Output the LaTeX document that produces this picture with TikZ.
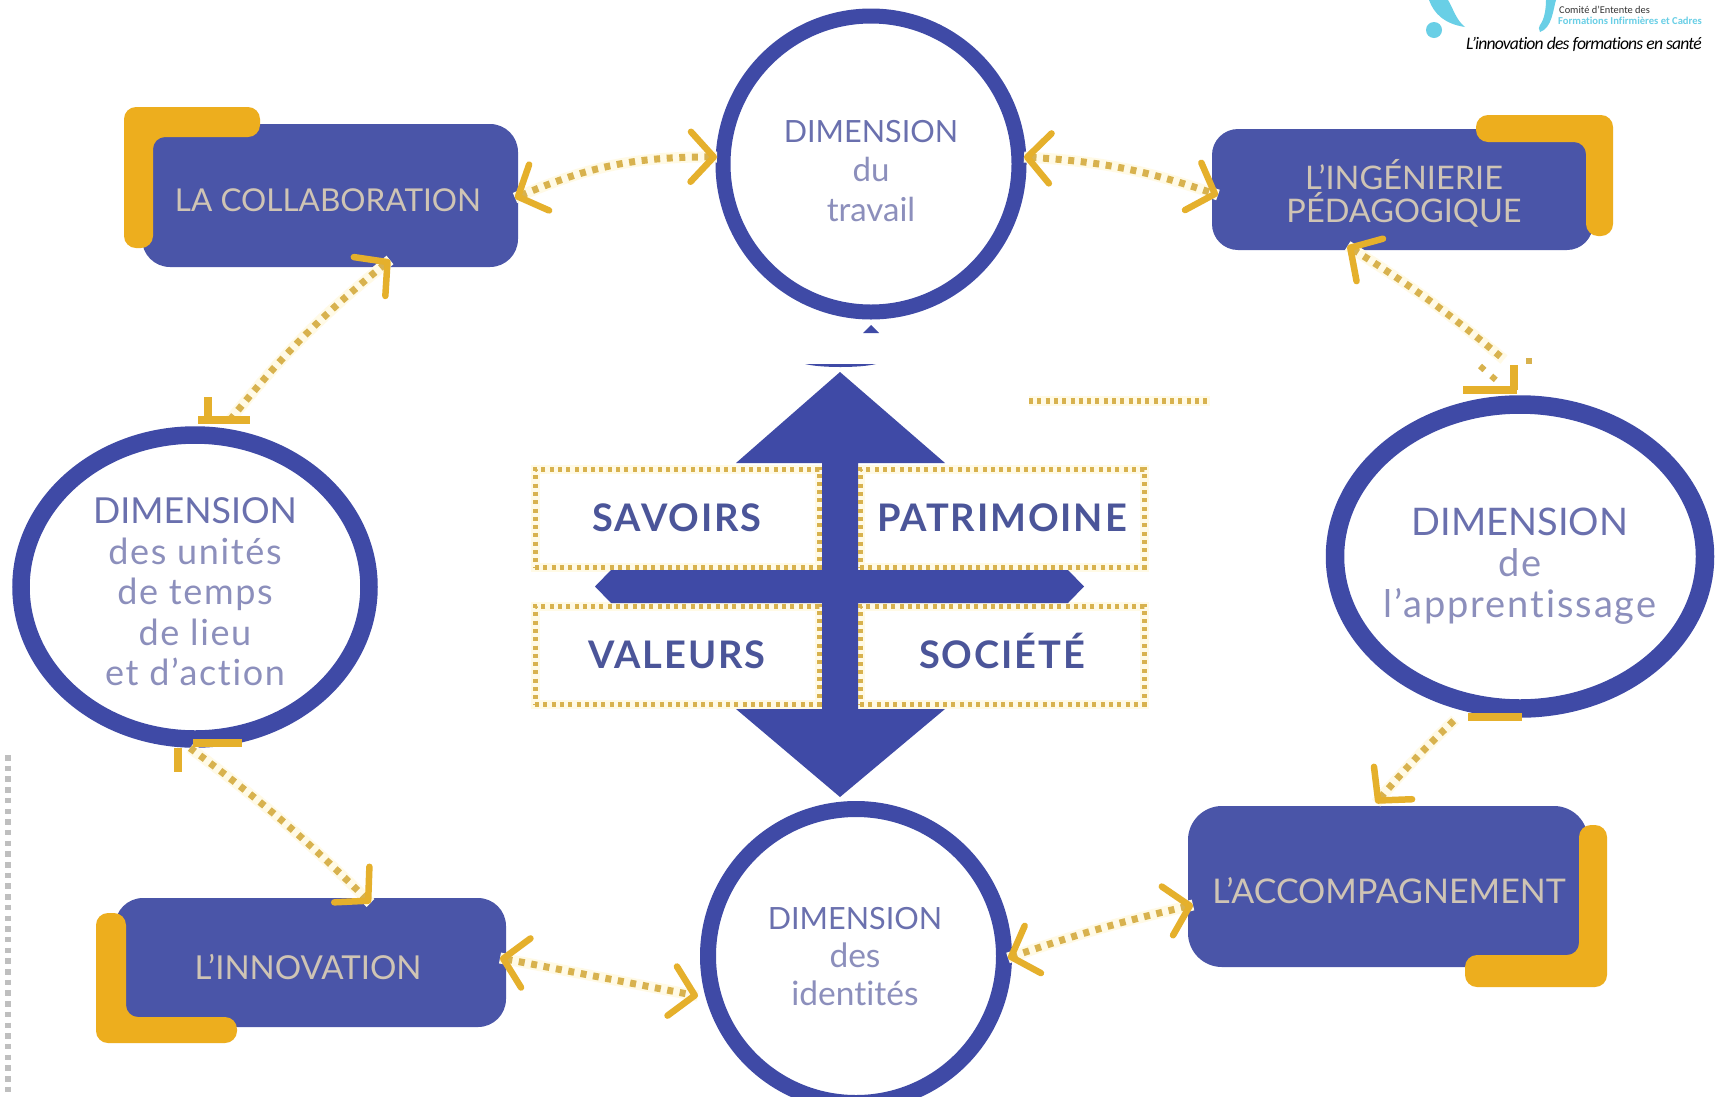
\documentclass[tikz,border=0pt]{standalone}
\usepackage{fontspec}
\setmainfont{Lato}[Ligatures={TeX,NoCommon}]
\newfontfamily\logofont{Carlito}[Ligatures={TeX,NoCommon}]
\usetikzlibrary{shapes.geometric,arrows.meta,bending}
\definecolor{ringblue}{HTML}{3F4AA6}
\definecolor{boxblue}{HTML}{4A55A8}
\definecolor{goldL}{HTML}{EDAE1E}
\definecolor{goldtip}{HTML}{E5B02C}
\definecolor{golddot}{HTML}{D8B24E}
\definecolor{halo}{HTML}{FFFAE6}
\definecolor{labelbeige}{HTML}{CFC4B4}
\definecolor{dimtop}{HTML}{6A70AE}
\definecolor{dimlow}{HTML}{8C8FBC}
\definecolor{coretext}{HTML}{4B5599}
\definecolor{teal}{HTML}{69CFE6}
\newcommand\fpx[2]{\fontsize{#1pt}{#2pt}\selectfont}
\newcommand\wide[1]{\addfontfeature{LetterSpace=#1}}
\tikzset{
  x=1pt,y=-1pt,
  ring/.style={draw=ringblue,line width=15pt,ellipse,fill=white,inner sep=0pt,outer sep=0pt},
  bluebox/.style={fill=boxblue,rectangle,inner sep=0pt,outer sep=0pt},
  boxlabel/.style={text=labelbeige,align=center,inner sep=0pt},
  dimlabel/.style={text=dimlow,align=center,inner sep=0pt},
  corebox/.style={rectangle,draw=golddot,line width=5pt,dash pattern=on 4pt off 4.3pt,
     minimum width=284pt,minimum height=98pt,inner sep=0pt,text=coretext,
     text height=27.4pt,text depth=0pt,font=\bfseries\fpx{38}{38}\wide{5}},
  halobox/.style={draw=halo,line width=9pt},
  link/.style={draw=golddot,line width=7pt,dash pattern=on 6pt off 6.6pt,
     preaction={draw=halo,line width=11pt,solid,arrows=-}},
  chev/.tip={Straight Barb[length=23pt,width=50pt,line width=6.5pt,color=goldtip,round]},
  bar/.style={draw=goldtip,line width=7.5pt},
}
\begin{document}
\begin{tikzpicture}
\fill[white] (0,0) rectangle (1717,1096);
\clip (0,0) rectangle (1717,1096);

% boxes
\node[bluebox,rounded corners=28pt,minimum width=376pt,minimum height=143pt] (coll) at (330,195.5) {};
\node[bluebox,rounded corners=26pt,minimum width=381pt,minimum height=121pt] (inge) at (1402.5,189.5) {};
\node[bluebox,rounded corners=34pt,minimum width=400pt,minimum height=161pt] (acco) at (1388,886.5) {};
\node[bluebox,rounded corners=28pt,minimum width=391pt,minimum height=129pt] (inno) at (310.5,962.5) {};

% gold corners
\fill[goldL,rounded corners=12pt] (124,107) -- (260,107) -- (260,137) -- (153,137) -- (153,248) -- (124,248) -- cycle;
\fill[goldL,rounded corners=12pt] (1613,115) -- (1476,115) -- (1476,142) -- (1586,142) -- (1586,236) -- (1613,236) -- cycle;
\fill[goldL,rounded corners=12pt] (1607,987) -- (1465,987) -- (1465,955) -- (1579,955) -- (1579,825) -- (1607,825) -- cycle;
\fill[goldL,rounded corners=12pt] (96,1043) -- (237,1043) -- (237,1017) -- (126,1017) -- (126,913) -- (96,913) -- cycle;

% box labels
\node[boxlabel,font=\fpx{31.5}{31.5}] (lcoll) at (328,200) {LA COLLABORATION};
\node[boxlabel,font=\fpx{32.5}{33}] (linge) at (1404,193) {L’INGÉNIERIE\\PÉDAGOGIQUE};
\node[boxlabel,font=\fpx{34}{34}] (lacco) at (1389,891) {L’ACCOMPAGNEMENT};
\node[boxlabel,font=\fpx{33}{33}] (linno) at (308,967) {L’INNOVATION};

% circles
\node[ring,minimum width=296pt,minimum height=296pt] (ctrav) at (871,164) {};
\node[ring,line width=17.5pt,minimum width=348pt,minimum height=304pt] (cunit) at (195,587) {};
\node[ring,line width=18.5pt,minimum width=370pt,minimum height=304pt] (cappr) at (1520,556.5) {};
\node[ring,line width=16pt,minimum width=296pt,minimum height=294pt] (ciden) at (856,956) {};

% connectors
\draw[link,{chev}-{chev},bend left=12] ([shift={(-3,2.5)}]coll.east) to ([shift={(-6,-7)}]ctrav.west);
\draw[link,{chev}-{chev},bend left=8] ([shift={(5,-7)}]ctrav.east) to ([shift={(6,5.5)}]inge.west);
\draw[link,{chev}-{chev},bend right=3] ([shift={(5,18.5)}]acco.west) to ([shift={(4,2)}]ciden.east);
\draw[link,{chev}-{chev}] ([shift={(-6,-4.5)}]inno.east) to ([shift={(-10,40)}]ciden.west);
\coordinate (e3) at ([shift={(-16,-45)}]cappr.north);
\coordinate (e4) at ([shift={(-65,11)}]cappr.south);
\coordinate (e7) at ([shift={(-5,9)}]cunit.south);
\coordinate (e8) at ([shift={(35,-15)}]cunit.north);
\draw[link,{chev}-,bend left=4] ([shift={(-55,-4)}]inge.south) to (e3);
\draw[link,{chev}-,bend left=3] ([shift={(-12,-3)}]acco.north) to (e4);
\draw[link,-{chev},bend left=4] (e7) to ([shift={(60,5)}]inno.north);
\draw[link,{chev}-,bend right=6] ([shift={(60,-7)}]coll.south) to (e8);
% cut-off arrow heads lying on the circles
\draw[bar] (198,420) -- (250,420);
\draw[bar] (208,397) -- (208,416);
\draw[bar] (193,743) -- (242,743);
\draw[bar] (178,748) -- (178,772);
\draw[bar] (1463,390) -- (1517,390);
\draw[bar] (1514,365) -- (1514,390);
\draw[bar] (1468,717) -- (1522,717);
\draw[draw=golddot,line width=6pt,dash pattern=on 6pt off 9pt] (1480,366) -- (1497,381);
\draw[draw=golddot,line width=6pt,dash pattern=on 6pt off 9pt] (1526,361) -- (1532,361);

% circle labels
\node[dimlabel,font=\fpx{33}{39.4}] (ttrav) at (871,171) {\textcolor{dimtop}{\fontsize{30.6}{39.4}\selectfont DIMENSION}\\du\\travail};
\node[dimlabel,font=\fpx{36}{40.5}\wide{4.5}] (tunit) at (195,592) {\textcolor{dimtop}{\fontsize{35.8}{40.5}\selectfont\addfontfeature{LetterSpace=0} DIMENSION}\\des unités\\de temps\\de lieu\\et d’action};
\node[dimlabel,font=\fpx{38}{41}\wide{5}] (tappr) at (1520,566) {\textcolor{dimtop}{\fontsize{38}{41}\selectfont\addfontfeature{LetterSpace=0} DIMENSION}\\de\\l’apprentissage};
\node[dimlabel,font=\fpx{33.5}{38}] (tiden) at (855,957) {\textcolor{dimtop}{\fontsize{30.6}{38}\selectfont DIMENSION}\\des\\identités};

% halos of the central dotted boxes, then the central cross
\draw[halobox] (535,469) rectangle (819,567);
\draw[halobox] (860,469) rectangle (1144,567);
\draw[halobox] (535,606) rectangle (819,704);
\draw[halobox] (860,606) rectangle (1144,704);
\fill[ringblue] (840,372) -- (945,463) -- (858,463) -- (858,570) -- (1068,570) -- (1084,586.5) -- (1068,603) -- (858,603) -- (858,709) -- (945,709) -- (840,797) -- (736,709) -- (822,709) -- (822,603) -- (611,603) -- (595,586.5) -- (611,570) -- (822,570) -- (822,463) -- (736,463) -- cycle;
\fill[ringblue] (863,333) -- (871,325) -- (879,333) -- cycle;
\fill[ringblue] (805,364) -- (876,364) .. controls (860,368) and (821,368) .. (805,364) -- cycle;

% central dotted boxes
\node[corebox] (sav) at (677,518) {SAVOIRS};
\node[corebox] (pat) at (1002,518) {PATRIMOINE};
\node[corebox] (val) at (677,655) {VALEURS};
\node[corebox] (soc) at (1002,655) {SOCIÉTÉ};

% loose dotted lines
\draw[draw=golddot,line width=6pt,dash pattern=on 4pt off 4.3pt,preaction={draw=halo,line width=10pt,solid}] (1029,401) -- (1210,401);
\draw[draw=gray!50,line width=5.5pt,dash pattern=on 5.5pt off 5.2pt] (8,755) -- (8,1096);

% logo
\fill[teal] (1429,0) .. controls (1434,14) and (1445,24) .. (1465,27) .. controls (1456,20) and (1453,8) .. (1448,0) -- cycle;
\fill[teal] (1434,30) circle[radius=8];
\fill[teal] (1556,0) .. controls (1553,10) and (1552,28) .. (1540,32) .. controls (1539,29) and (1538,27) .. (1540,25) .. controls (1544,20) and (1546,10) .. (1546,0) -- cycle;
\node[anchor=west,inner sep=0pt,text=black!80,font=\logofont\fpx{10.4}{12}] (lg1) at (1559,10) {Comité d’Entente des};
\node[anchor=west,inner sep=0pt,text=teal,font=\logofont\bfseries\fpx{10.6}{12}] (lg2) at (1558,20.5) {Formations Infirmières et Cadres};
\node[anchor=east,inner sep=0pt,text=black,font=\logofont\itshape\fpx{17.6}{20}\wide{-4.7}] (lg3) at (1702,44.5) {L’innovation des formations en santé};
\end{tikzpicture}
\end{document}
